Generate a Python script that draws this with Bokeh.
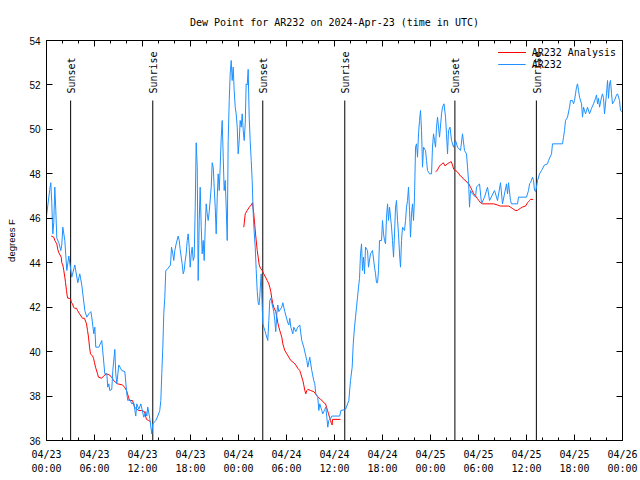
import numpy as np
import pandas as pd
from bokeh.plotting import figure
from bokeh.models import (FixedTicker, DatetimeTickFormatter, DatetimeAxis, LinearAxis,
                          Label, Legend, LegendItem)
from bokeh.embed import file_html
from bokeh.resources import INLINE

# ---------------- data ----------------
title_text = "Dew Point for AR232 on 2024-Apr-23 (time in UTC)"
y_label = "degrees F"
start = pd.Timestamp("2024-04-23 00:00")
end = pd.Timestamp("2024-04-26 00:00")
y_ticks = [36, 38, 40, 42, 44, 46, 48, 50, 52, 54]

# observed station dew point (hours after start, deg F)
obs_hours = [
    0.0, 0.41, 0.54, 0.66, 0.79, 0.91, 1.04, 1.16, 1.29, 1.54, 1.79, 1.91, 2.04, 2.29, 2.54, 2.79,
    3.16, 3.54, 3.91, 4.16, 4.41, 4.79, 5.04, 5.29, 5.54, 5.66, 5.91, 6.04, 6.16, 6.54, 6.91, 7.29,
    7.54, 7.66, 7.79, 7.91, 8.16, 8.29, 8.54, 8.66, 8.79, 9.04, 9.41, 9.79, 10.04, 10.16, 10.41,
    10.66, 10.91, 11.16, 11.29, 11.54, 11.79, 12.16, 12.41, 12.54, 12.66, 12.91, 13.16, 13.29,
    13.66, 13.91, 14.16, 14.29, 14.41, 14.54, 14.66, 14.79, 14.91,
    15.09, 15.5, 15.63, 15.79, 15.91, 16.04, 16.21, 16.46, 16.59, 16.71, 16.84, 16.96, 17.09,
    17.21, 17.34, 17.46, 17.59, 17.71, 17.84, 17.96, 18.09, 18.21, 18.34, 18.46, 18.59, 18.71,
    18.84, 18.96, 19.09, 19.21, 19.34, 19.46, 19.59, 19.71, 19.84, 19.96, 20.09, 20.21, 20.34,
    20.59, 20.71, 20.84, 20.96, 21.09, 21.21, 21.34, 21.46, 21.59, 21.71, 21.84, 21.96, 22.09,
    22.21, 22.34, 22.46, 22.59, 22.71, 22.84, 22.96, 23.09, 23.21, 23.34, 23.46, 23.59, 23.71,
    23.84, 23.96, 24.09, 24.21, 24.34, 24.46, 24.59, 24.71, 24.84, 24.96, 25.09, 25.21, 25.34,
    25.46, 25.59, 25.71, 25.84, 25.94, 26.09, 26.21, 26.34, 26.46, 26.56, 26.66, 26.75, 26.84, 26.91,
    27.04, 27.16, 27.29, 27.41, 27.66, 27.79, 27.91, 28.04, 28.41, 28.54, 28.66, 28.79, 28.91,
    29.04, 29.41, 29.54, 29.79, 30.16, 30.29, 30.41, 30.54, 30.79, 30.91, 31.16, 31.41, 31.66,
    31.91, 32.16, 32.54, 32.66, 32.91, 33.16, 33.41, 33.54, 33.66, 33.91, 34.04, 34.16, 34.41,
    34.54, 34.79, 34.91, 35.04, 35.16, 35.29, 35.54, 35.66, 36.66, 36.79, 37.38, 37.79, 38.0,
    38.21, 38.34, 38.5, 38.63, 38.75, 38.88, 39.0, 39.13,
    39.25, 39.38, 39.5, 39.63, 39.75, 39.88, 40.13, 40.25, 40.5, 40.75, 41.0, 41.13, 41.25, 41.38,
    41.5, 41.63, 41.88, 42.0, 42.13, 42.25, 42.38, 42.5, 42.63, 42.75, 42.88, 43.13, 43.25, 43.38,
    43.5, 43.63, 43.75, 43.88, 44.0, 44.13, 44.25, 44.38, 44.5, 44.75, 44.88, 45.0, 45.13, 45.25,
    45.38, 45.5, 45.63, 45.75, 45.88, 46.0, 46.13, 46.25, 46.38, 46.5, 46.63, 46.75, 46.88, 47.0,
    47.13, 47.38, 47.5, 47.63, 47.88, 48.13, 48.25, 48.38, 48.5, 48.63, 48.75, 48.88, 49.13, 49.38,
    49.5, 49.69, 49.88, 50.0, 50.13, 50.25, 50.44, 50.63, 50.88, 51.13, 51.38, 51.75, 52.0, 52.25,
    52.5, 52.63, 52.75, 52.88,
    53.0, 53.25, 53.63, 53.75, 54.13, 54.38, 54.75, 55.13, 55.38, 56.0, 56.38, 56.75, 57.0, 57.5,
    57.63, 57.75, 58.0, 58.13, 58.88, 59.0, 60.0, 60.25, 60.38, 60.5, 60.75, 60.88, 61.0, 61.13,
    61.25, 61.38, 61.63, 61.88, 62.25, 62.63, 62.75, 63.0, 63.13, 63.25, 64.5, 64.63, 64.75, 64.88,
    65.13, 65.38, 65.5, 65.75, 65.88, 66.0, 66.13, 66.25, 66.38, 66.5, 66.63, 66.88, 67.0, 67.13,
    67.38, 67.63, 67.88, 68.13, 68.38, 68.63, 68.75, 68.88, 69.0, 69.13, 69.38, 69.5, 69.63, 69.75,
    70.0, 70.13, 70.25, 70.38, 70.5, 70.63, 70.75, 71.0, 71.25, 71.38, 71.63, 71.75, 71.94,
]
obs_dewpt = [
    46.1, 47.3, 47.6, 46.7, 45.3, 45.8, 47.4, 46.4, 45.1, 44.9, 44.55, 44.8, 45.6, 45.0, 43.65, 44.3,
    43.35, 43.9, 43.1, 43.5, 43.0, 41.85, 41.55, 41.7, 41.8, 41.55, 40.8, 41.1, 40.2, 40.2, 40.5, 39.0,
    39.0, 38.4, 38.55, 38.25, 38.3, 39.15, 40.1, 39.0, 38.55, 39.4, 39.15, 39.1, 38.1, 37.8, 37.85,
    37.65, 37.7, 37.1, 37.65, 37.4, 37.65, 37.05, 37.3, 37.1, 37.5, 37.0, 36.3, 36.75,
    36.9, 37.1, 37.35, 37.8, 39.0, 40.2, 41.7, 42.45, 43.65,
    43.7, 43.9, 44.7, 44.4, 44.1, 44.55, 44.85, 45.2, 45.0, 44.6, 44.25, 43.95, 43.5,
    43.65, 44.1, 44.4, 45.0, 45.3, 44.7, 43.8, 44.4, 44.7, 44.1, 44.25, 46.5, 49.4,
    48.3, 43.2, 45.9, 47.4, 45.6, 44.4, 45.0, 44.1, 45.6, 46.65, 46.2, 45.9, 46.3,
    47.4, 48.5, 48.3, 47.4, 46.5, 45.3, 46.95, 48.0, 47.25, 48.3, 49.65, 50.4, 48.75,
    47.25, 47.7, 46.5, 45.0, 49.5, 51.3, 52.5, 53.1, 52.2, 52.8, 51.75, 51.0, 50.7,
    50.1, 48.9, 49.5, 50.4, 50.1, 50.7, 49.95, 49.5, 50.25, 52.05, 52.0, 52.7, 50.5,
    49.5, 48.6, 47.7, 46.2, 45.5, 44.7, 43.7, 42.7, 42.2, 42.1, 42.45, 43.05, 43.5, 42.6,
    41.25, 41.1, 40.95, 40.8, 40.5, 41.4, 42.3, 42.4, 41.8, 41.4, 40.9, 41.7, 42.1,
    41.8, 42.0, 42.2, 41.8, 41.3, 41.2, 41.5, 41.1, 40.8, 41.1, 40.9, 41.1, 41.2,
    40.5, 40.2, 39.6, 39.3, 39.75, 39.15, 38.7, 38.55, 38.1, 37.95, 37.35, 37.65, 37.35,
    37.2, 37.4, 37.5, 37.05, 36.6, 36.9, 37.0, 37.1, 37.1, 37.35, 37.4, 37.8, 38.7,
    39.3, 40.35, 41.1, 41.55, 42.0, 42.45, 42.9, 43.3,
    44.4, 44.85, 43.65, 44.25, 43.5, 44.7, 44.55, 43.8, 44.4, 44.55, 43.8, 43.5, 43.1, 43.1,
    43.65, 45.0, 45.0, 45.9, 45.3, 45.0, 44.85, 46.05, 46.65, 45.9, 46.5, 45.6, 45.0, 44.25,
    45.3, 46.5, 46.8, 45.9, 45.3, 44.4, 43.8, 45.0, 45.6, 45.45, 45.9, 46.5, 46.8, 47.4,
    46.35, 45.15, 46.2, 46.65, 45.9, 46.95, 49.2, 49.35, 48.75, 49.8, 50.4, 50.85, 49.95, 48.3,
    49.2, 49.05, 48.6, 48.15, 48.0, 48.0, 49.2, 49.8, 49.5, 49.2, 50.1, 50.55, 49.65, 50.7,
    51.0, 51.15, 50.55, 49.8, 48.9, 49.95, 50.1, 49.5, 49.2, 49.5, 49.2, 49.05, 49.8, 49.05,
    48.9, 48.3, 47.7, 46.5,
    47.25, 47.1, 46.95, 47.4, 47.55, 46.65, 46.95, 47.4, 46.8, 47.25, 46.8, 47.6, 46.65, 47.55,
    47.1, 47.6, 46.8, 46.65, 46.65, 46.95, 46.95, 47.25, 47.55, 47.6, 47.85, 47.7, 47.25, 47.2,
    47.4, 47.7, 48.0, 48.15, 48.4, 48.45, 48.6, 48.8, 48.9, 49.35, 49.35, 49.65, 49.95, 50.4,
    50.55, 51.0, 51.3, 51.3, 51.15, 51.3, 51.6, 51.9, 52.05, 51.75, 51.45, 51.15, 50.55, 51.0,
    50.7, 51.0, 50.7, 50.95, 51.15, 51.4, 51.55, 51.15, 51.4, 51.0, 51.45, 51.6, 51.4, 50.7,
    51.6, 52.2, 51.4, 52.05, 52.2, 51.6, 51.15, 51.3, 51.55, 51.6, 51.3, 50.85, 50.8,
]

# analysis dew point, three separate pieces
ana1_hours = [0.59, 0.91, 1.04, 1.29, 1.41, 1.54, 1.84, 1.91, 2.04, 2.16, 2.29, 2.38, 2.5, 2.59,
              2.66, 2.88, 3.0, 3.13, 3.25, 3.38, 3.5, 3.75, 3.88, 4.13, 4.5, 4.75, 5.0, 5.13,
              5.25, 5.38, 5.5, 5.75, 5.88, 6.0, 6.13, 6.38, 6.5, 6.88, 7.13, 7.5, 7.88, 8.25,
              8.38, 8.88, 9.5, 9.75, 10.0, 10.13, 10.25, 10.38, 10.75, 10.88, 11.0, 11.5, 11.88,
              12.25, 12.38, 12.5, 12.75, 13.0]
ana1_dewpt = [45.2, 45.15, 45.0, 44.85, 44.6, 44.45, 44.25, 44.0, 43.9, 43.65, 43.35, 43.1, 42.75,
              42.5, 42.4, 42.4, 42.35, 42.2, 42.15, 42.0, 41.95, 41.95, 41.85, 41.7, 41.5, 41.5,
              41.25, 40.95, 40.65, 40.2, 39.9, 39.8, 39.7, 39.5, 39.3, 39.0, 38.85, 38.8, 38.9,
              39.0, 38.95, 38.8, 38.7, 38.55, 38.5, 38.4, 38.25, 38.1, 37.95, 37.8, 37.8, 37.65,
              37.5, 37.35, 37.35, 37.3, 37.1, 36.95, 36.9, 36.85]
ana2_hours = [24.66, 24.84, 25.09, 25.34, 25.59, 25.75, 25.91, 26.13, 26.34, 26.46, 26.59, 26.75,
              26.96, 27.16, 27.38, 27.59, 27.79, 27.91, 28.04, 28.16, 28.29, 28.41, 28.66, 28.79,
              28.91, 29.04, 29.16, 29.29, 29.41, 29.54, 29.66, 29.79, 30.04, 30.29, 30.54, 30.91,
              31.16, 31.41, 31.66, 31.79, 32.04, 32.16, 32.29, 32.41, 32.54, 32.66, 33.0, 33.41,
              33.84, 34.25, 34.46, 34.66, 34.88, 35.0, 35.13, 35.25, 35.38, 35.5, 35.63, 35.71,
              35.75, 36.75]
ana2_dewpt = [45.6, 46.2, 46.35, 46.5, 46.6, 46.7, 46.2, 45.3, 44.55, 44.25, 43.9, 43.75, 43.65,
              43.5, 43.35, 43.2, 43.05, 42.9, 42.7, 42.4, 42.15, 42.0, 41.8, 41.55, 41.3, 41.1,
              40.95, 40.8, 40.65, 40.35, 40.2, 40.05, 39.9, 39.75, 39.6, 39.5, 39.4, 39.25, 39.15,
              39.0, 38.7, 38.5, 38.25, 38.1, 38.25, 38.3, 38.25, 38.2, 38.0, 37.85, 37.8, 37.7,
              37.65, 37.5, 37.35, 37.2, 37.05, 36.9, 36.75, 36.7, 36.95, 36.95]
ana3_hours = [48.63, 48.84, 49.04, 49.25, 49.46, 49.59, 49.84, 50.09, 50.34, 50.59, 50.75, 50.91,
              51.13, 51.34, 51.54, 51.75, 51.96, 52.16, 52.38, 52.59, 52.79, 53.0, 53.21, 53.41,
              53.63, 53.84, 54.04, 54.25, 54.46, 55.91, 56.34, 56.75, 57.79, 58.0, 58.21, 58.41,
              58.63, 58.84, 59.04, 59.25, 59.46, 59.88, 60.13, 60.25, 60.38, 60.5, 60.84]
ana3_dewpt = [48.1, 48.15, 48.3, 48.4, 48.45, 48.5, 48.35, 48.45, 48.5, 48.55, 48.4, 48.2, 48.15,
              48.1, 48.0, 47.9, 47.85, 47.75, 47.7, 47.6, 47.55, 47.4, 47.25, 47.1, 47.0, 46.9,
              46.8, 46.7, 46.65, 46.65, 46.6, 46.55, 46.55, 46.5, 46.45, 46.4, 46.35, 46.35, 46.4,
              46.45, 46.5, 46.55, 46.7, 46.75, 46.8, 46.85, 46.85]

sunset_times = ["2024-04-23 03:01", "2024-04-24 03:02", "2024-04-25 03:03"]
sunrise_times = ["2024-04-23 13:17", "2024-04-24 13:17", "2024-04-25 13:14"]

assert len(obs_hours) == len(obs_dewpt), (len(obs_hours), len(obs_dewpt))
assert len(ana1_hours) == len(ana1_dewpt)
assert len(ana2_hours) == len(ana2_dewpt), (len(ana2_hours), len(ana2_dewpt))
assert len(ana3_hours) == len(ana3_dewpt), (len(ana3_hours), len(ana3_dewpt))

# ---------------- styling ----------------
MONO = "DejaVu Sans Mono"
SANS = "Liberation Sans"
BLUE = "#1e90ff"
RED = "#ff0000"
Y0, Y1 = y_ticks[0], y_ticks[-1]
SUN_LINE_TOP = Y0 + 0.85 * (Y1 - Y0)


def to_dt(hours):
    return (start + pd.to_timedelta(np.asarray(hours, dtype=float), unit="h")).to_numpy()


def ms(ts):
    return pd.Timestamp(ts).value / 1e6


p = figure(x_axis_type="datetime", x_range=(start, end), y_range=(Y0, Y1),
           frame_width=576, frame_height=400,
           min_border_left=46, min_border_right=18, min_border_top=40, min_border_bottom=40,
           output_backend="svg", toolbar_location=None, title=title_text)
p.xgrid.grid_line_color = None
p.ygrid.grid_line_color = None
p.outline_line_color = "black"
p.outline_line_alpha = 1
p.outline_line_width = 1
p.background_fill_color = "white"

p.title.align = "center"
p.title.text_font = MONO
p.title.text_font_size = "10px"
p.title.text_font_style = "normal"
p.title.text_color = "black"
p.title.standoff = 26

major_x = [ms(start + pd.Timedelta(hours=h)) for h in range(0, 73, 6)]
minor_x = [ms(start + pd.Timedelta(hours=h)) for h in range(0, 73, 2)]
x_ticker = FixedTicker(ticks=major_x, minor_ticks=minor_x)
y_ticker = FixedTicker(ticks=y_ticks, minor_ticks=[])
fmt_str = "%m/%d\n%H:%M"
x_fmt = DatetimeTickFormatter(microseconds=fmt_str, milliseconds=fmt_str, seconds=fmt_str,
                              minsec=fmt_str, minutes=fmt_str, hourmin=fmt_str, hours=fmt_str,
                              days=fmt_str, months=fmt_str, years=fmt_str,
                              strip_leading_zeros=False)


def style_axis(ax):
    ax.major_tick_in = 6
    ax.major_tick_out = 0
    ax.minor_tick_in = 3
    ax.minor_tick_out = 0
    ax.major_tick_line_color = "black"
    ax.minor_tick_line_color = "black"
    ax.axis_line_color = "black"


def hide_labels(ax):
    ax.major_label_text_font_size = "0px"
    ax.major_label_text_color = None
    ax.major_label_text_alpha = 0
    ax.major_label_standoff = 0
    ax.axis_line_color = None


xa = p.xaxis[0]
xa.ticker = x_ticker
xa.formatter = x_fmt
style_axis(xa)
xa.major_label_text_font = MONO
xa.major_label_text_font_size = "10px"
xa.major_label_text_line_height = 1.3
xa.major_label_text_color = "black"
xa.major_label_standoff = 8

ya = p.yaxis[0]
ya.ticker = y_ticker
style_axis(ya)
ya.major_label_text_font = SANS
ya.major_label_text_font_size = "10px"
ya.major_label_text_color = "black"
ya.major_label_standoff = 6
ya.axis_label = y_label
ya.axis_label_text_font = SANS
ya.axis_label_text_font_size = "9.5px"
ya.axis_label_text_font_style = "normal"
ya.axis_label_text_color = "black"
ya.axis_label_standoff = 9

top_ax = DatetimeAxis(ticker=x_ticker, formatter=x_fmt)
style_axis(top_ax)
hide_labels(top_ax)
p.add_layout(top_ax, "above")

right_ax = LinearAxis(ticker=y_ticker)
style_axis(right_ax)
hide_labels(right_ax)
p.add_layout(right_ax, "right")

# sunrise / sunset markers
sun_all = pd.to_datetime(sunset_times + sunrise_times).to_numpy()
p.segment(x0=sun_all, y0=Y0, x1=sun_all, y1=SUN_LINE_TOP, line_color="black", line_width=1)
for name, times in (("Sunset", sunset_times), ("Sunrise", sunrise_times)):
    for t in times:
        p.add_layout(Label(x=ms(t), y=SUN_LINE_TOP, text=name, angle=np.pi / 2,
                           text_align="left", text_baseline="middle", y_offset=7, x_offset=1,
                           text_font=MONO, text_font_size="10px", text_color="black"))

# data lines
r_ana = []
for hrs, vals in ((ana1_hours, ana1_dewpt), (ana2_hours, ana2_dewpt), (ana3_hours, ana3_dewpt)):
    r_ana.append(p.line(to_dt(hrs), vals, line_color=RED, line_width=1))
r_obs = p.line(to_dt(obs_hours), obs_dewpt, line_color=BLUE, line_width=1)

legend = Legend(items=[LegendItem(label="AR232 Analysis", renderers=r_ana),
                       LegendItem(label="AR232", renderers=[r_obs])],
                location="top_right", background_fill_alpha=0, border_line_color=None,
                label_text_font=MONO, label_text_font_size="10px", label_text_color="black",
                glyph_width=28, glyph_height=12, label_height=12, spacing=0,
                padding=2, margin=6, label_standoff=6)
p.add_layout(legend)

open("out.html", "w").write(file_html(p, INLINE))
